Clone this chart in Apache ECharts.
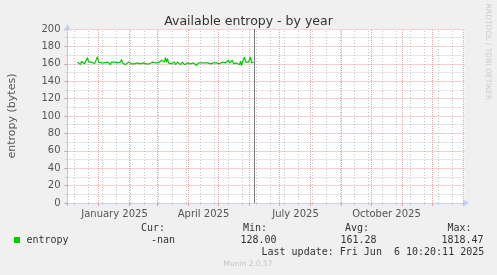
<!DOCTYPE html>
<html><head><meta charset="utf-8">
<script src="https://cdn.jsdelivr.net/npm/echarts@6/dist/echarts.min.js"></script>
<style>html,body{margin:0;padding:0;background:#f0f0f0;}#c{width:497px;height:275px;}</style>
</head><body><div id="c"></div>
<script>
// Domain: one category per day, 2024-12-01 .. 2026-01-02
const axisStart = '2024-12-01';
const axisDays = 398;
const dataStart = '2024-12-11';
// Daily average entropy (bytes), 2024-12-11 .. 2025-06-06
const entropyValues = [
  162,160,161,159,163,161,165,160,162,161,
  167,162,160,161,162,160,161,160,161,162,
  168,162,161,163,161,162,160,161,163,161,
  162,160,161,159,162,161,160,162,161,160,
  161,159,161,162,165,161,160,162,159,161,
  160,162,160,161,160,161,162,160,161,160,
  161,160,162,160,161,160,161,159,161,160,
  161,162,160,161,160,162,161,160,161,160,
  162,161,163,161,164,162,163,162,167,162,
  166,161,160,162,160,161,160,162,159,161,
  162,160,161,159,160,162,160,159,161,158,
  161,160,162,160,161,162,161,159,161,158,
  160,161,160,162,161,160,162,161,162,160,
  161,162,161,160,161,160,161,162,160,161,
  160,161,160,161,160,162,161,163,161,160,
  162,164,161,160,163,164,160,162,158,161,
  160,162,159,163,158,162,160,168,162,160,
  164,162,161,168,161,160,162
];
const nowDate = '2025-06-06';
const labelDates = ['2025-01-17','2025-04-16','2025-07-17','2025-10-16'];
const labelTexts = ['January 2025','April 2025','July 2025','October 2025'];
const yTicks = [0,20,40,60,80,100,120,140,160,180,200];
const legendName = 'entropy';
const statHeads = ['Cur:','Min:','Avg:','Max:'];
const statValues = ['-nan','128.00','161.28','1818.47'];
const lastUpdate = 'Last update: Fri Jun  6 10:20:11 2025';

function fmt(d){return d.toISOString().slice(0,10);}
const categories = [];
const t0 = Date.parse(axisStart + 'T00:00:00Z');
for (let i = 0; i < axisDays; i++) categories.push(fmt(new Date(t0 + i*86400000)));
const off = categories.indexOf(dataStart);
const seriesData = entropyValues.map((v,i)=>[categories[off+i], v]);
const isMonthStart = (i,v)=>v.endsWith('-01');
const isMinor = (i)=>i%14===7;

const RED = '#eba3a3';
const GREY = '#a9a9a9';
const AX = '#c9d0f2';
const mono = '"DejaVu Sans Mono", monospace';
const sans = '"DejaVu Sans", sans-serif';

const monthLines = [];
const minorLines = [];
categories.forEach((v,i)=>{
  if (isMonthStart(i,v)) monthLines.push({xAxis:v});
  else if (isMinor(i)) minorLines.push({xAxis:v});
});

const chart = echarts.init(document.getElementById('c'), null, {renderer:'canvas'});
chart.setOption({
  backgroundColor: '#f0f0f0',
  animation: false,
  title: {text:'Available entropy - by year', left:'center', top:10,
    textStyle:{fontFamily:sans, fontSize:12.5, fontWeight:'normal', color:'#333'}},
  grid: {left:67.5, top:29, width:397, height:174, show:true, backgroundColor:'#ffffff', borderWidth:0},
  xAxis: [
    {type:'category', data:categories, boundaryGap:false, z:3,
     axisLine:{show:true, lineStyle:{color:AX, width:1}, symbol:['none','arrow'], symbolSize:[6,7], symbolOffset:[0,5]},
     axisTick:{show:true, length:3, interval:isMonthStart, lineStyle:{color:RED}},
     axisLabel:{show:true, interval:(i,v)=>labelDates.indexOf(v)>=0,
       formatter:(v)=>labelTexts[labelDates.indexOf(v)] || '', fontFamily:sans, fontSize:10, color:'#555', margin:6},
     splitLine:{show:false}},
    {type:'category', data:categories, boundaryGap:false, z:2, position:'bottom',
     axisLine:{show:false}, axisLabel:{show:false},
     axisTick:{show:true, length:2, interval:isMinor, lineStyle:{color:'#c8c8c8'}},
     splitLine:{show:false}}
  ],
  yAxis: {type:'value', min:yTicks[0], max:yTicks[yTicks.length-1], interval:20, z:1,
    axisLine:{show:true, lineStyle:{color:AX, width:1}, symbol:['none','arrow'], symbolSize:[6,7], symbolOffset:[0,5]},
    axisTick:{show:true, length:3, lineStyle:{color:'#aaa'}},
    minorTick:{show:true, splitNumber:2, length:2, lineStyle:{color:'#c8c8c8'}},
    axisLabel:{fontFamily:sans, fontSize:10, color:'#555', margin:7},
    splitLine:{show:true, lineStyle:{color:RED, type:[1,1], width:1}},
    minorSplitLine:{show:true, lineStyle:{color:'#cfcfcf', type:[1,1], width:1}}
  },
  series: [
    {type:'line', name:'minorgrid', xAxisIndex:0, data:[], z:4, silent:true,
     markLine:{silent:true, symbol:'none', label:{show:false}, animation:false,
       lineStyle:{color:GREY, type:[1,2], width:1, opacity:0.7}, data:minorLines}},
    {type:'line', name:'majorgrid', xAxisIndex:0, data:[], z:4, silent:true,
     markLine:{silent:true, symbol:'none', label:{show:false}, animation:false,
       lineStyle:{color:RED, type:[1,1], width:1}, data:monthLines}},
    {type:'line', name:'entropy', xAxisIndex:0, data:seriesData, symbol:'none', showSymbol:false,
     lineStyle:{color:'#00cc00', width:1.2}, itemStyle:{color:'#00cc00'}, z:6,
     markLine:{silent:true, symbol:'none', label:{show:false},
       lineStyle:{color:'#7a7a7a', type:'solid', width:1},
       data:[{xAxis:nowDate}]}}
  ],
  graphic: [
    {type:'text', x:12, y:116, rotation:Math.PI/2,
     style:{text:'entropy (bytes)', fontFamily:sans, fontSize:11, fill:'#555', align:'center', verticalAlign:'middle'}},
    {type:'text', x:487.5, y:52, rotation:-Math.PI/2,
     style:{text:'RRDTOOL / TOBI OETIKER', fontFamily:sans, fontSize:7.5, fill:'#cccccc', align:'center', verticalAlign:'middle'}},
    {type:'rect', shape:{x:14, y:237, width:6, height:6}, style:{fill:'#00cc00'}},
    {type:'text', x:26.5, y:240.5, style:{text:legendName, fontFamily:mono, fontSize:10, fill:'#333', verticalAlign:'middle'}},
    {type:'text', x:141, y:228, style:{text:statHeads[0], fontFamily:mono, fontSize:10, fill:'#333', verticalAlign:'middle'}},
    {type:'text', x:243, y:228, style:{text:statHeads[1], fontFamily:mono, fontSize:10, fill:'#333', verticalAlign:'middle'}},
    {type:'text', x:345, y:228, style:{text:statHeads[2], fontFamily:mono, fontSize:10, fill:'#333', verticalAlign:'middle'}},
    {type:'text', x:447.5, y:228, style:{text:statHeads[3], fontFamily:mono, fontSize:10, fill:'#333', verticalAlign:'middle'}},
    {type:'text', x:151, y:240.5, style:{text:statValues[0], fontFamily:mono, fontSize:10, fill:'#333', verticalAlign:'middle'}},
    {type:'text', x:240.5, y:240.5, style:{text:statValues[1], fontFamily:mono, fontSize:10, fill:'#333', verticalAlign:'middle'}},
    {type:'text', x:340.5, y:240.5, style:{text:statValues[2], fontFamily:mono, fontSize:10, fill:'#333', verticalAlign:'middle'}},
    {type:'text', x:441.5, y:240.5, style:{text:statValues[3], fontFamily:mono, fontSize:10, fill:'#333', verticalAlign:'middle'}},
    {type:'text', x:261.5, y:252, style:{text:lastUpdate, fontFamily:mono, fontSize:10, fill:'#333', verticalAlign:'middle'}},
    {type:'text', x:248, y:264, style:{text:'Munin 2.0.57', fontFamily:sans, fontSize:7.5, fill:'#c4c4c4', align:'center', verticalAlign:'middle'}}
  ]
});
</script></body></html>
